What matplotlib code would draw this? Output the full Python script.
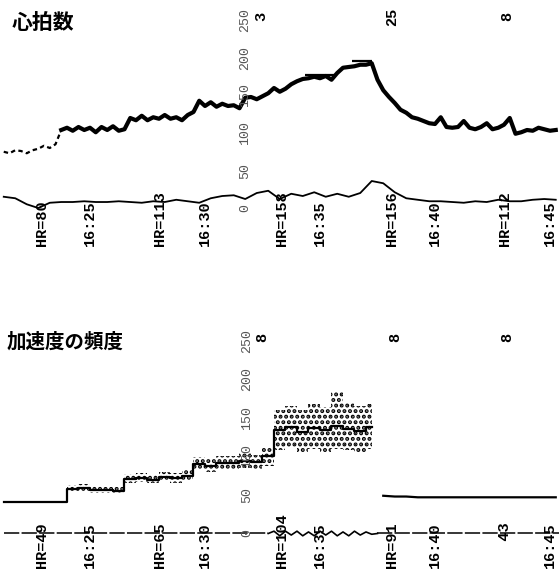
import matplotlib
matplotlib.use('Agg')
import matplotlib.pyplot as plt

plt.rcParams['font.family'] = ['Noto Sans CJK JP', 'DejaVu Sans']
plt.rcParams['hatch.linewidth'] = 2.0

# all times are minutes after 16:00
hr_t0, hr_dt = 21.25, 0.25
hr = [75, 73, 77, 76, 73, 77, 79, 83, 80, 85, 104, 107,
      103, 108, 104, 107, 101, 108, 104, 109, 103, 105, 120, 117,
      123, 117, 121, 119, 124, 119, 121, 117, 124, 128, 143, 136,
      141, 135, 139, 136, 137, 133, 147, 148, 145, 149, 153, 160,
      155, 159, 165, 169, 172, 173, 175, 173, 176, 171, 180, 187,
      188, 189, 191, 191, 193, 171, 157, 148, 140, 131, 127, 121,
      119, 116, 113, 112, 121, 108, 107, 108, 116, 107, 105, 108,
      113, 105, 107, 111, 120, 99, 101, 104, 103, 107, 105, 103,
      104]
bar_start = [34.35, 36.4]
bar_end = [35.65, 37.25]
bar_val = [177, 196]

act_t0, act_dt = 21.25, 0.5
activity = [15, 13, 5, 0, 7, 8, 8, 9, 8, 8, 9, 8, 7, 9, 8, 11, 9,
            7, 13, 16, 17, 12, 20, 23, 12, 19, 16, 21, 15, 19, 15, 20,
            36, 33, 21, 13, 11, 9, 9, 8, 7, 9, 8, 11, 9, 9, 11, 12, 11]

freq_t0, freq_dt = 21.25, 0.5
freq_mid = [41, 41, 41, 41, 41, 41, 58, 59, 57, 56, 55,
            71, 72, 70, 73, 72, 75, 90, 88, 92, 91, 94, 93, 100,
            135, 138, 132, 137, 134, 140, 136, 133, 138,
            49, 48, 48, 47, 47, 47, 47, 47, 47, 47, 47, 47, 47, 47, 47, 47]
freq_lo = [41, 41, 41, 41, 41, 41, 54, 55, 53, 52, 52,
           66, 67, 65, 68, 66, 68, 82, 80, 84, 82, 85, 84, 88,
           108, 112, 105, 110, 106, 110, 108, 106, 110,
           49, 48, 48, 47, 47, 47, 47, 47, 47, 47, 47, 47, 47, 47, 47, 47]
freq_hi = [41, 41, 41, 41, 41, 41, 63, 64, 62, 61, 60,
           77, 78, 76, 80, 79, 83, 99, 97, 101, 100, 104, 102, 112,
           160, 166, 160, 168, 164, 185, 170, 165, 168,
           49, 48, 48, 47, 47, 47, 47, 47, 47, 47, 47, 47, 47, 47, 47, 47]
freq_split = 33  # the printout restarts after the exercise block

wave_t0, wave_dt = 32.75, 0.25
wave = [0, 3, -3, 3, -2, 3, -3, 2, -3, 3, -2, 3, -3, 2, -3, 3, -2, 2, -1, 0]
base_left = (21.25, 32.75)
base_right = (37.5, 45.4)

ticks = [0, 50, 100, 150, 200, 250]
clock_t = [25, 30, 35, 40, 45]
clock_txt = ['16:25', '16:30', '16:35', '16:40', '16:45']
hr_lab_t = [22.9, 28.05, 33.35, 38.15, 43.05]
top_hr_txt = ['HR=80', 'HR=113', 'HR=158', 'HR=156', 'HR=112']
bot_hr_txt = ['HR=49', 'HR=65', 'HR=104', 'HR=91', '   43']
top_tails = [('3', 32.45), ('25', 38.13), ('8', 43.13)]
bot_tails = [('8', 32.5), ('8', 38.26), ('8', 43.13)]

mono = dict(family='Liberation Mono', weight='bold', size=11)
tickfont = dict(family='Liberation Mono', size=9.5, color='#555555')


def times(t0, dt, vals):
    return [t0 + i * dt for i in range(len(vals))]


fig = plt.figure(figsize=(5.6, 5.72), dpi=100)
ax1 = fig.add_axes([0, 312 / 572, 1, 260 / 572])
ax2 = fig.add_axes([0, 0, 1, 272 / 572])
for ax in (ax1, ax2):
    ax.set_xlim(21.087, 45.435)
    ax.axis('off')
ax1.set_ylim(-69.3, 277.3)
ax2.set_ylim(-50, 303.2)

# --- 心拍数 ---
hr_t = times(hr_t0, hr_dt, hr)
ax1.plot(hr_t[:11], hr[:11], color='k', lw=1.6, ls=(0, (2, 1.5)))
ax1.plot(hr_t[10:], hr[10:], color='k', lw=3.0)
ax1.hlines(bar_val, bar_start, bar_end, color='k', lw=1.6)
ax1.plot(times(act_t0, act_dt, activity), activity, color='k', lw=1.3)

ax1.text(0.021, 0.912, '心拍数', transform=ax1.transAxes, fontsize=15,
         fontweight='bold', va='center', ha='left')
for v in ticks:
    ax1.text(31.74, v, str(v), rotation=90, ha='center', va='center', **tickfont)
for t, s in zip(hr_lab_t, top_hr_txt):
    ax1.text(t, -50.7, s, rotation=90, rotation_mode='anchor',
             ha='left', va='center', **mono)
for t, s in zip(clock_t, clock_txt):
    ax1.text(t, -50.7, s, rotation=90, rotation_mode='anchor',
             ha='left', va='center', **mono)
for s, t in top_tails:
    ax1.text(t, 255, s, rotation=90, ha='center', va='center', **mono)

# --- 加速度の頻度 ---
freq_t = times(freq_t0, freq_dt, freq_mid)
n = freq_split
ax2.fill_between(freq_t[:n], freq_lo[:n], freq_hi[:n], step='mid',
                 facecolor='none', edgecolor='k', hatch='...', lw=0)
ax2.plot(freq_t[:n], freq_mid[:n], color='k', lw=1.6, drawstyle='steps-mid')
ax2.plot(freq_t[n:], freq_mid[n:], color='k', lw=1.6)
ax2.plot(base_left, (0, 0), color='k', lw=1.1, ls=(0, (10, 1.5)))
ax2.plot(base_right, (0, 0), color='k', lw=1.1, ls=(0, (10, 1.5)))
ax2.plot(times(wave_t0, wave_dt, wave), wave, color='k', lw=1.2)

ax2.text(0.0125, 0.846, '加速度の頻度', transform=ax2.transAxes, fontsize=14,
         fontweight='bold', va='center', ha='left')
for v in ticks:
    ax2.text(31.83, v, str(v), rotation=90, ha='center', va='center', **tickfont)
for t, s in zip(hr_lab_t, bot_hr_txt):
    ax2.text(t, -44.8, s, rotation=90, rotation_mode='anchor',
             ha='left', va='center', **mono)
for t, s in zip(clock_t, clock_txt):
    ax2.text(t, -44.8, s, rotation=90, rotation_mode='anchor',
             ha='left', va='center', **mono)
for s, t in bot_tails:
    ax2.text(t, 254, s, rotation=90, ha='center', va='center', **mono)

fig.savefig('out.png', dpi=100)
